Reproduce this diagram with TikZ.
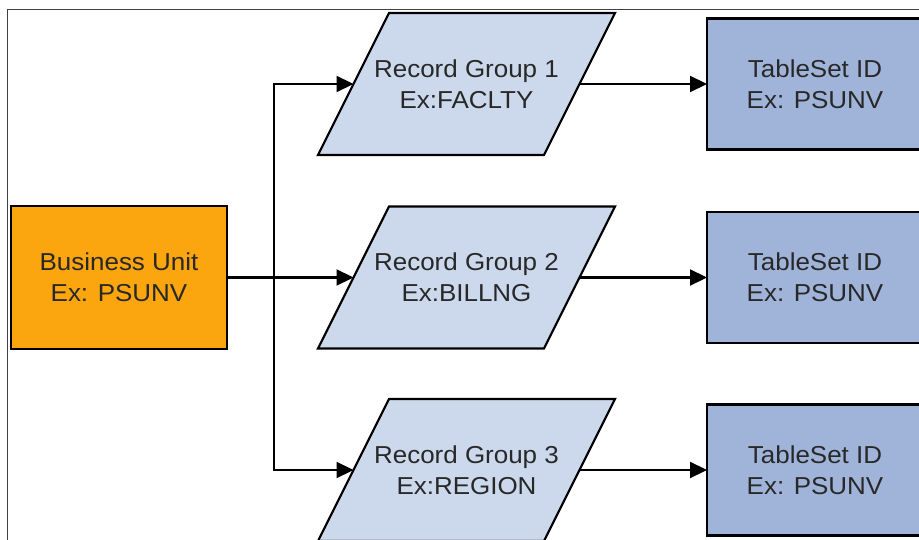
\documentclass[tikz,border=0pt]{standalone}
\usepackage{fontspec}
\setmainfont{Liberation Sans}[FakeStretch=1.06]
\usepackage{xcolor}
\definecolor{ColUnit}{RGB}{251,165,15}
\definecolor{ColGroup}{RGB}{204,217,236}
\definecolor{ColSet}{RGB}{160,180,218}
\definecolor{ColText}{RGB}{40,40,40}
\usepackage{tikz}
\usetikzlibrary{arrows.meta}
\usetikzlibrary{backgrounds}
\tikzstyle{Box}=[draw=black,line width=2.2pt,align=center,text=ColText,
font=\fontsize{24.5}{31}\selectfont,inner sep=0pt,outer sep=0pt]
\tikzstyle{Unit}=[Box,rectangle,fill=ColUnit,minimum width=216pt,
minimum height=143pt]
\tikzstyle{Group}=[Box,draw=none,rectangle,minimum width=226pt,
minimum height=142pt]
\tikzstyle{Slant}=[draw=black,line width=2.2pt,fill=ColGroup,
line join=miter]
\tikzstyle{SetID}=[Box,rectangle,fill=ColSet,minimum width=216pt,
minimum height=131pt]
\tikzstyle{Link}=[draw=black,line width=2.2pt,
-{Triangle[length=17pt,width=16pt]}]

\begin{document}
\begin{tikzpicture}[x=1pt,y=-1pt]
        \useasboundingbox(0,0)rectangle(919,540);
        \draw[black!75,line width=0.9pt](919,9.5)--(7.5,9.5)--(7.5,540);
        \node[Unit](bu)at(119.00,277.50){Business Unit\\Ex: PSUNV};
        \node[Group](rg1)at(466.50,84.00){Record Group 1\\Ex:FACLTY};
        \node[Group](rg2)at(466.50,277.50){Record Group 2\\Ex:BILLNG};
        \node[Group](rg3)at(466.50,470.00){Record Group 3\\Ex:REGION};
        \node[SetID](ts1)at(815.00,84.00){TableSet ID\\Ex: PSUNV};
        \node[SetID](ts2)at(815.00,277.50){TableSet ID\\Ex: PSUNV};
        \node[SetID](ts3)at(815.00,470.00){TableSet ID\\Ex: PSUNV};
        % slanted record group shapes behind the text
        \begin{scope}[on background layer]
        \foreach \g in {rg1,rg2,rg3}
            \draw[Slant]([xshift=-35.5pt]\g.south west)
                --([xshift=-35.5pt]\g.south east)
                --([xshift=35.5pt]\g.north east)
                --([xshift=35.5pt]\g.north west)--cycle;
        \end{scope}
        \coordinate(split)at(274.00,277.50);
        \draw[Link](bu.east)--(rg2.west);
        \draw[Link](split)|-(rg1.west);
        \draw[Link](split)|-(rg3.west);
        \draw[Link](rg1.east)--(ts1.west);
        \draw[Link](rg2.east)--(ts2.west);
        \draw[Link](rg3.east)--(ts3.west);
    \end{tikzpicture}
\end{document}
